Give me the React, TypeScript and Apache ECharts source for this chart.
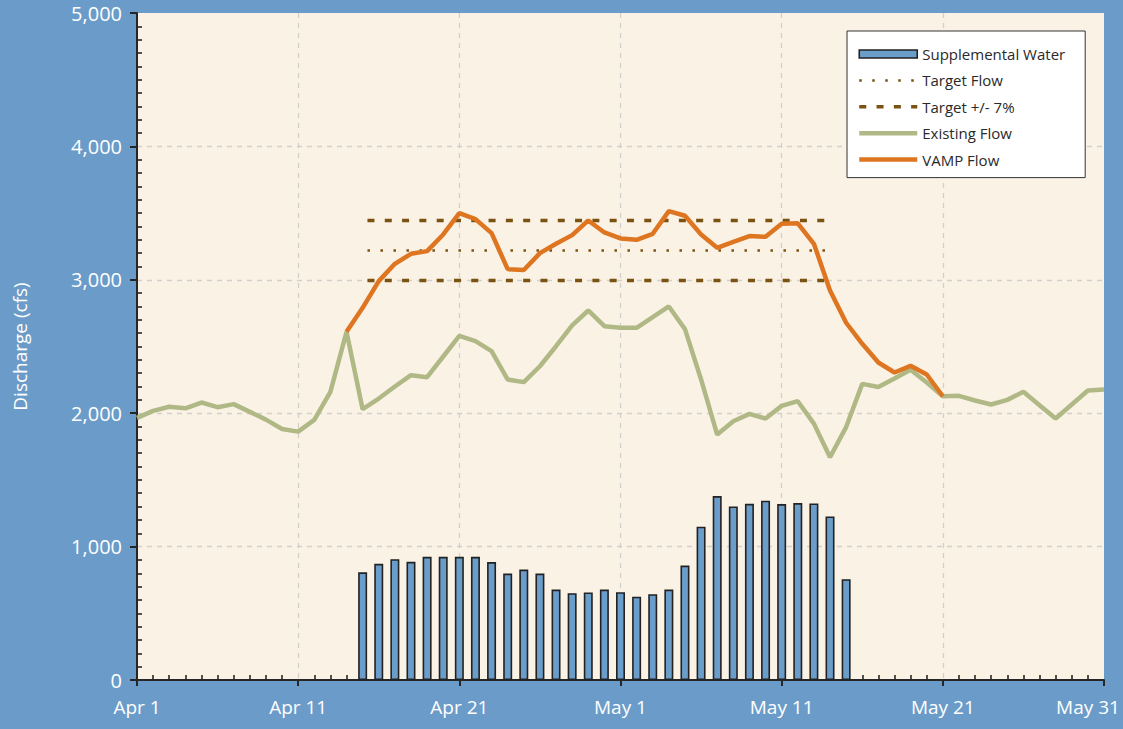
import React, { useEffect, useRef } from "react";
import * as echarts from "echarts";

// Day index 0 = Apr 1, 60 = May 31
const xTickLabels = ["Apr 1", "Apr 11", "Apr 21", "May 1", "May 11", "May 21", "May 31"];

const existingStartDay = 0;
const existingFlow = [
  1965, 2017, 2048, 2037, 2080, 2045, 2068, 2010, 1952, 1882,
  1862, 1950, 2160, 2610, 2030, 2110, 2200, 2285, 2270, 2425,
  2580, 2540, 2465, 2252, 2233, 2352, 2502, 2658, 2770, 2652,
  2640, 2640, 2720, 2800, 2630, 2253, 1840, 1940, 1995, 1960,
  2055, 2090, 1922, 1670, 1896, 2220, 2197, 2260, 2325, 2230,
  2127, 2130, 2095, 2065, 2100, 2160, 2060, 1960, 2065, 2170,
  2177,
];

const vampStartDay = 13;
const vampFlow = [
  2610, 2790, 2990, 3120, 3195, 3215, 3340, 3500, 3455, 3350,
  3080, 3073, 3200, 3270, 3335, 3445, 3355, 3310, 3300, 3345,
  3515, 3480, 3340, 3240, 3285, 3328, 3322, 3420, 3423, 3270,
  2920, 2678, 2520, 2380, 2305, 2355, 2290, 2127,
];

const supplementalStartDay = 14;
const supplementalWater = [
  807, 871, 906, 886, 923, 923, 923, 923, 884, 798,
  828, 798, 678, 651, 656, 678, 658, 625, 643, 678,
  858, 1149, 1379, 1301, 1321, 1344, 1319, 1326, 1324, 1226,
  756,
];

const targetDays = [14.3, 42.7];
const targetFlow = 3220;
const targetUpper = 3445;
const targetLower = 2995;

const FONT = "'Open Sans', Lato, sans-serif";
const AXIS_COLOR = "#262626";
const GRID_COLOR = "#d2d0cc";

export default function App() {
  const ref = useRef<HTMLDivElement>(null);

  useEffect(() => {
    if (!ref.current) return;
    const chart = echarts.init(ref.current, null, { renderer: "svg" });

    const toPairs = (start: number, arr: number[]) => arr.map((v, i) => [start + i, v]);
    const flat = (v: number) => targetDays.map((d) => [d, v]);
    const hideSymbol = { opacity: 0 };
    const lastIdx = xTickLabels.length - 1;

    const option: any = {
      animation: false,
      backgroundColor: "#6b9cc9",
      textStyle: { fontFamily: FONT },
      grid: {
        left: 137,
        right: 19,
        top: 13,
        bottom: 49,
        show: true,
        backgroundColor: "#fbf2e6",
        borderWidth: 0,
        containLabel: false,
        outerBoundsMode: "none",
      },
      legend: {
        orient: "vertical",
        left: 847,
        top: 31,
        backgroundColor: "#ffffff",
        borderColor: "#333333",
        borderWidth: 1,
        borderRadius: 0,
        padding: [15, 20, 10, 10],
        itemWidth: 58,
        itemHeight: 8,
        itemGap: 10.4,
        textStyle: { color: "#2a2a2a", fontSize: 15, fontFamily: FONT, lineHeight: 16 },
        lineStyle: { width: "inherit", type: "inherit" },
        itemStyle: { borderWidth: "inherit" },
        data: [
          { name: "Supplemental Water", icon: "rect" },
          { name: "Target Flow", itemStyle: hideSymbol },
          { name: "Target +/- 7%", itemStyle: hideSymbol },
          { name: "Existing Flow", itemStyle: hideSymbol },
          { name: "VAMP Flow", itemStyle: hideSymbol },
        ],
      },
      xAxis: [
        {
          type: "value",
          min: 0,
          max: 60,
          interval: 10,
          position: "bottom",
          axisLine: { show: true, onZero: false, lineStyle: { color: AXIS_COLOR, width: 2 } },
          axisTick: { show: true, inside: false, length: 6, lineStyle: { color: AXIS_COLOR, width: 2 } },
          axisLabel: {
            color: "#ffffff",
            fontSize: 19,
            fontFamily: FONT,
            margin: 17,
            formatter: (v: number) => {
              const i = Math.round(v / 10);
              const t = xTickLabels[i] ?? "";
              return i === lastIdx ? `{last|${t}}` : t;
            },
            rich: {
              last: {
                color: "#ffffff",
                fontSize: 19,
                fontFamily: FONT,
                padding: [0, 32, 0, 0],
              },
            },
          },
          splitLine: {
            show: true,
            showMinLine: false,
            showMaxLine: false,
            lineStyle: { color: GRID_COLOR, type: [5, 5], width: 1.3 },
          },
        },
        {
          type: "value",
          min: 0,
          max: 60,
          interval: 10,
          position: "bottom",
          axisLine: { show: false, onZero: false },
          axisTick: { show: false, inside: true },
          axisLabel: { show: false },
          splitLine: { show: false },
          minorTick: { show: true, splitNumber: 10, length: 5, lineStyle: { color: AXIS_COLOR, width: 1.6 } },
        },
      ],
      yAxis: [
        {
          type: "value",
          min: 0,
          max: 5000,
          interval: 1000,
          position: "left",
          name: "Discharge (cfs)",
          nameLocation: "middle",
          nameGap: 108,
          nameTextStyle: { color: "#ffffff", fontSize: 19, fontFamily: FONT },
          axisLine: { show: true, onZero: false, lineStyle: { color: AXIS_COLOR, width: 2 } },
          axisTick: { show: true, inside: false, length: 7, lineStyle: { color: AXIS_COLOR, width: 2 } },
          axisLabel: {
            color: "#ffffff",
            fontSize: 20,
            fontFamily: FONT,
            margin: 15,
            formatter: (v: number) => v.toLocaleString("en-US"),
          },
          splitLine: {
            show: true,
            showMinLine: false,
            showMaxLine: false,
            lineStyle: { color: GRID_COLOR, type: [5, 5], width: 1.3 },
          },
        },
        {
          type: "value",
          min: 0,
          max: 5000,
          interval: 1000,
          position: "left",
          axisLine: { show: false, onZero: false },
          axisTick: { show: false, inside: true },
          axisLabel: { show: false },
          splitLine: { show: false },
          minorTick: { show: true, splitNumber: 10, length: 5, lineStyle: { color: AXIS_COLOR, width: 1.6 } },
        },
      ],
      series: [
        {
          name: "Supplemental Water",
          type: "bar",
          barWidth: 9,
          data: toPairs(supplementalStartDay, supplementalWater),
          itemStyle: { color: "#6b9dca", borderColor: "#222222", borderWidth: 1.6 },
          z: 2,
        },
        {
          name: "Target Flow",
          type: "line",
          symbol: "none",
          data: flat(targetFlow),
          lineStyle: { color: "#7a5212", width: 2.5, type: [2.5, 10.5], cap: "butt" },
          itemStyle: { color: "#7a5212" },
          z: 3,
        },
        {
          name: "Target +/- 7%",
          type: "line",
          symbol: "none",
          data: flat(targetUpper),
          lineStyle: { color: "#7a5212", width: 3.5, type: [7, 10.3], cap: "butt" },
          itemStyle: { color: "#7a5212" },
          z: 3,
        },
        {
          name: "Target +/- 7%",
          type: "line",
          symbol: "none",
          data: flat(targetLower),
          lineStyle: { color: "#7a5212", width: 3.5, type: [7, 10.3], cap: "butt" },
          itemStyle: { color: "#7a5212" },
          z: 3,
        },
        {
          name: "Existing Flow",
          type: "line",
          symbol: "none",
          data: toPairs(existingStartDay, existingFlow),
          lineStyle: { color: "#b0b985", width: 4.5 },
          itemStyle: { color: "#b0b985" },
          z: 4,
        },
        {
          name: "VAMP Flow",
          type: "line",
          symbol: "none",
          data: toPairs(vampStartDay, vampFlow),
          lineStyle: { color: "#de7521", width: 4.5 },
          itemStyle: { color: "#de7521" },
          z: 5,
        },
      ],
    };

    chart.setOption(option);
    return () => chart.dispose();
  }, []);

  return (
    <div
      ref={ref}
      style={{ position: "fixed", left: 0, top: 0, width: 1123, height: 729 }}
    />
  );
}
